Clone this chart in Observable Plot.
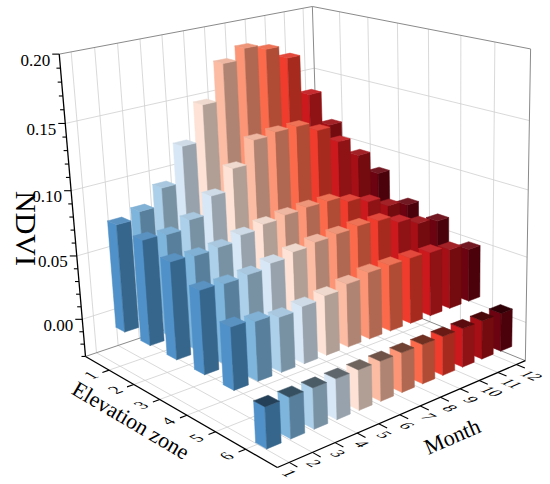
<!DOCTYPE html>
<html>
<head>
<meta charset="utf-8">
<script src="https://cdn.jsdelivr.net/npm/d3@7"></script>
<script src="https://cdn.jsdelivr.net/npm/@observablehq/plot@0.6"></script>
<style>
html,body{margin:0;padding:0;background:#fff;}
#chart{width:550px;height:484px;}
</style>
</head>
<body>
<div id="chart"></div>
<script>
// ---------------- data ----------------
const months = [1, 2, 3, 4, 5, 6, 7, 8, 9, 10, 11, 12];
const monthLabels = ["1", "2", "3", "4", "5", "6", "7", "8", "9", "10", "11", "12"];
const zones = [1, 2, 3, 4, 5, 6];
const zoneLabels = ["1", "2", "3", "4", "5", "6"];
const ndviTicks = [0.00, 0.05, 0.10, 0.15, 0.20];
const ndviTickLabels = ["0.00", "0.05", "0.10", "0.15", "0.20"];

// NDVI per month (Jan..Dec) for each elevation zone
const zone1 = [0.082, 0.087, 0.100, 0.127, 0.154, 0.181, 0.189, 0.185, 0.175, 0.143, 0.115, 0.080];
const zone2 = [0.079, 0.078, 0.084, 0.097, 0.113, 0.130, 0.132, 0.132, 0.125, 0.112, 0.097, 0.078];
const zone3 = [0.072, 0.071, 0.072, 0.076, 0.079, 0.081, 0.082, 0.082, 0.077, 0.072, 0.064, 0.060];
const zone4 = [0.061, 0.060, 0.061, 0.064, 0.067, 0.069, 0.070, 0.071, 0.070, 0.064, 0.058, 0.055];
const zone5 = [0.045, 0.043, 0.040, 0.042, 0.044, 0.047, 0.050, 0.050, 0.050, 0.049, 0.046, 0.041];
const zone6 = [-0.030, -0.030, -0.030, -0.030, -0.030, -0.030, -0.030, -0.030, -0.030, -0.030, -0.030, -0.030];

const monthColors = ["#4f91c8", "#7db5dd", "#acd0ea", "#d8e7f5", "#fde2d5", "#fcbca3",
                     "#fc9575", "#fb6b4b", "#ef3c2d", "#cc191e", "#a50f15", "#6b0310"];

// ---------------- 3D view ----------------
const W = 550, H = 484;
const M0 = 0.5, M1 = 12.5, Z0 = 0, Z1 = 7, V0 = -0.03, V1 = 0.20;
const norm3 = (m, z, v) => [(m - M0) / (M1 - M0), (z - Z0) / (Z1 - Z0), (v - V0) / (V1 - V0)];
// where the bars sit inside the box (month / zone placement)
const barMonth = m => 1.34 + 1.04 * (m - 1);
const barZone = z => z + 0.1;

// calibration of the box: [month, zone, ndvi, px, py]
const anchors = [
  [M0, Z0, V0, 85, 355], [M0, Z0, V1, 58, 53], [M1, Z0, V1, 312, 6],
  [M1, Z1, V1, 530, 48], [M1, Z1, V0, 525, 360], [M0, Z1, V0, 277, 467],
  [M0, Z0, 0.00, 80, 319], [M0, Z0, 0.05, 77, 256], [M0, Z0, 0.10, 72, 191], [M0, Z0, 0.15, 65, 123],
  [M1, Z1, 0.10, 527, 190], [M1, Z1, 0.00, 526, 322]
];

function fitCamera(pts) {
  const n = 11;
  const A = Array.from({length: n}, () => new Array(n).fill(0));
  const b = new Array(n).fill(0);
  const add = (row, val) => {
    for (let i = 0; i < n; i++) { b[i] += row[i] * val; for (let j = 0; j < n; j++) A[i][j] += row[i] * row[j]; }
  };
  for (const [m, z, v, px, py] of pts) {
    const [u, w, h] = norm3(m, z, v);
    add([u, w, h, 1, 0, 0, 0, 0, -px * u, -px * w, -px * h], px);
    add([0, 0, 0, 0, u, w, h, 1, -py * u, -py * w, -py * h], py);
  }
  for (let i = 0; i < n; i++) {
    let p = i;
    for (let k = i + 1; k < n; k++) if (Math.abs(A[k][i]) > Math.abs(A[p][i])) p = k;
    [A[i], A[p]] = [A[p], A[i]]; [b[i], b[p]] = [b[p], b[i]];
    for (let k = i + 1; k < n; k++) {
      const f = A[k][i] / A[i][i];
      for (let j = i; j < n; j++) A[k][j] -= f * A[i][j];
      b[k] -= f * b[i];
    }
  }
  const s = new Array(n).fill(0);
  for (let i = n - 1; i >= 0; i--) {
    let t = b[i];
    for (let j = i + 1; j < n; j++) t -= A[i][j] * s[j];
    s[i] = t / A[i][i];
  }
  return s;
}
const C = fitCamera(anchors);
function project(m, z, v) {
  const [u, w, h] = norm3(m, z, v);
  const d = C[8] * u + C[9] * w + C[10] * h + 1;
  return [(C[0] * u + C[1] * w + C[2] * h + C[3]) / d, (C[4] * u + C[5] * w + C[6] * h + C[7]) / d];
}
function depthOf(m, z) {
  const [u, w, h] = norm3(m, z, 0.08);
  return C[8] * u + C[9] * w + C[10] * h + 1;
}
const depthSign = depthOf(M0, Z1) < depthOf(M1, Z0) ? 1 : -1;

const seg = (a, b) => { const p = project(...a), q = project(...b); return {x1: p[0], y1: p[1], x2: q[0], y2: q[1]}; };

// walls and floor grid
const wallGrid = [], floorGrid = [];
months.forEach(m => { floorGrid.push(seg([m, Z0, V0], [m, Z1, V0])); wallGrid.push(seg([m, Z0, V0], [m, Z0, V1])); });
zones.forEach(z => { floorGrid.push(seg([M0, z, V0], [M1, z, V0])); wallGrid.push(seg([M1, z, V0], [M1, z, V1])); });
ndviTicks.filter(v => v < V1).forEach(v => { wallGrid.push(seg([M0, Z0, v], [M1, Z0, v])); wallGrid.push(seg([M1, Z0, v], [M1, Z1, v])); });
const frame = [
  seg([M0, Z0, V1], [M1, Z0, V1]), seg([M1, Z0, V1], [M1, Z1, V1]),
  seg([M1, Z0, V0], [M1, Z0, V1]), seg([M1, Z1, V0], [M1, Z1, V1]),
  seg([M0, Z0, V0], [M1, Z0, V0]), seg([M1, Z0, V0], [M1, Z1, V0])
];
const axes = [seg([M0, Z0, V0], [M0, Z0, V1]), seg([M0, Z0, V0], [M0, Z1, V0]), seg([M0, Z1, V0], [M1, Z1, V0])];

// ticks
const ticks = [];
d3.range(-3, 21).forEach(k => {
  const v = k / 100, p = project(M0, Z0, v), major = k % 5 === 0;
  ticks.push({x1: p[0], y1: p[1], x2: p[0] - (major ? 7 : 4), y2: p[1]});
});
zones.forEach(z => ticks.push(seg([M0, z, V0], [M0 - 0.3, z, V0])));
months.forEach(m => ticks.push(seg([m, Z1, V0], [m, Z1 + 0.25, V0])));

// bars
const BW = 0.62, BD = 0.36;
const zoneValues = [zone1, zone2, zone3, zone4, zone5, zone6];
const bars = [];
zoneValues.forEach((vals, zi) => vals.forEach((v, mi) => bars.push({
  zone: zones[zi], month: months[mi], value: v, color: monthColors[mi],
  pm: barMonth(months[mi]), pz: barZone(zones[zi])
})));
bars.sort((a, b) => depthSign * (depthOf(b.pm, b.pz) - depthOf(a.pm, a.pz)));
const faces = [];
bars.forEach((b, i) => {
  const m0 = b.pm - BW / 2, m1 = b.pm + BW / 2, z0 = b.pz - BD / 2, z1 = b.pz + BD / 2;
  const lo = Math.min(0, b.value), hi = Math.max(0, b.value);
  const base = d3.rgb(b.color);
  const side = base.darker(1).formatHex();
  const top = b.value >= 0 ? d3.interpolateRgb(b.color, "#9a9a9a")(0.14) : base.darker(2.3).formatHex();
  const add = (id, pts, fill) => { pts.concat([pts[0]]).forEach(q => { const p = project(...q); faces.push({face: i + id, x: p[0], y: p[1], fill}); }); };
  add("L", [[m0, z0, lo], [m0, z1, lo], [m0, z1, hi], [m0, z0, hi]], b.color);
  add("R", [[m0, z1, lo], [m1, z1, lo], [m1, z1, hi], [m0, z1, hi]], side);
  add("T", [[m0, z0, hi], [m1, z0, hi], [m1, z1, hi], [m0, z1, hi]], top);
});

// labels
const ndviLabelData = ndviTicks.map((v, i) => { const p = project(M0, Z0, v); return {x: p[0] - 9, y: p[1] + 6, text: ndviTickLabels[i]}; });
const unit = (p, q) => { const dx = q[0] - p[0], dy = q[1] - p[1], l = Math.hypot(dx, dy); return [dx / l, dy / l]; };
const zoneLabelData = zones.map((z, i) => {
  const p = project(M0 - 0.8, z, V0), o = project(M0, z, V0);
  const bdir = unit(o, project(M0 + 0.5, z, V0)), up = unit(o, project(M0, z - 0.5, V0));
  return {x: p[0], y: p[1] - 1, text: zoneLabels[i], mat: [bdir[0], bdir[1], -up[0], -up[1]]};
});
const monthLabelData = months.map((m, i) => {
  const o = project(m, Z1, V0);
  const bdir = unit(o, project(m, Z1 + 0.5, V0)), up = unit(o, project(m + 0.5, Z1, V0));
  return {x: o[0] + 1.35 * (m - 1), y: o[1] + 11, text: monthLabels[i], mat: [bdir[0], bdir[1], -up[0], -up[1]]};
});
const pz = project(M0 - 1.7, 3.4, V0), pm = project(8.4, Z1, V0), pv = project(M0, Z0, 0.085);
const titles = [
  {x: pz[0], y: pz[1], text: "Elevation zone"},
  {x: pm[0] + 4, y: pm[1] + 43, text: "Month"},
  {x: pv[0] - 47, y: pv[1] + 18, text: "NDVI"}
];

const serif = "'Liberation Serif', 'Times New Roman', Times, serif";
const chart = Plot.plot({
  width: W, height: H, margin: 0,
  x: {domain: [0, W], range: [0, W], axis: null},
  y: {domain: [0, H], range: [0, H], axis: null},
  color: {type: "identity"},
  style: {fontFamily: serif, background: "white", overflow: "visible"},
  marks: [
    Plot.link(wallGrid, {x1: "x1", y1: "y1", x2: "x2", y2: "y2", stroke: "#cfcfcf", strokeWidth: 0.8}),
    Plot.link(floorGrid, {x1: "x1", y1: "y1", x2: "x2", y2: "y2", stroke: "#cfcfcf", strokeWidth: 0.8}),
    Plot.link(frame, {x1: "x1", y1: "y1", x2: "x2", y2: "y2", stroke: "#8a8a8a", strokeWidth: 1}),
    Plot.line(faces, {x: "x", y: "y", z: "face", fill: "fill", stroke: "fill", strokeWidth: 0.5, strokeLinejoin: "round", curve: "linear"}),
    Plot.link(axes, {x1: "x1", y1: "y1", x2: "x2", y2: "y2", stroke: "#000", strokeWidth: 1.3}),
    Plot.link(ticks, {x1: "x1", y1: "y1", x2: "x2", y2: "y2", stroke: "#000", strokeWidth: 1.1}),
    Plot.text(ndviLabelData, {x: "x", y: "y", text: "text", textAnchor: "end", fontSize: 17, fill: "#000"}),
    Plot.text(zoneLabelData, {x: "x", y: "y", text: "text", fontSize: 17, fill: "#000", rotate: -59, ariaDescription: "zone-ticklabels"}),
    Plot.text(monthLabelData, {x: "x", y: "y", text: "text", fontSize: 17, fill: "#000", rotate: 67, ariaDescription: "month-ticklabels"}),
    Plot.text(titles.slice(0, 1), {x: "x", y: "y", text: "text", rotate: 30.6, fontSize: 22, fill: "#000"}),
    Plot.text(titles.slice(1, 2), {x: "x", y: "y", text: "text", rotate: -23.4, fontSize: 22, fill: "#000"}),
    Plot.text(titles.slice(2, 3), {x: "x", y: "y", text: "text", rotate: 90, fontSize: 30, fill: "#000"})
  ]
});
document.getElementById("chart").appendChild(chart);

// lay the axis digits into the floor plane (skewed like the 3D reference)
function skew(desc, data) {
  d3.select(chart).selectAll(`g[aria-description="${desc}"] text`).each(function(d) {
    const r = data[d]; if (!r) return;
    const t = this.getAttribute("transform") || "";
    const mtx = `matrix(${r.mat.map(v => v.toFixed(4)).join(",")},0,0)`;
    this.setAttribute("transform", /rotate\(/.test(t) ? t.replace(/rotate\([^)]*\)/, mtx) : t + " " + mtx);
  });
}
skew("zone-ticklabels", zoneLabelData);
skew("month-ticklabels", monthLabelData);
</script>
</body>
</html>
